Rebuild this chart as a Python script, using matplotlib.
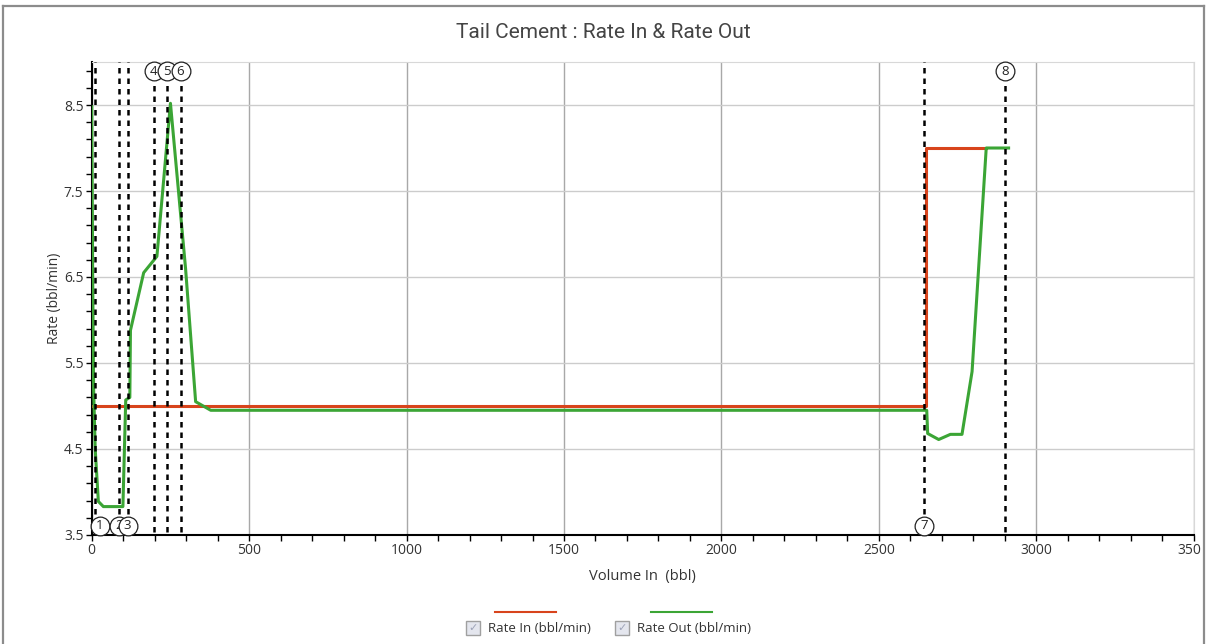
import numpy as np
import matplotlib.pyplot as plt
from matplotlib.lines import Line2D
from matplotlib.patches import Rectangle
import matplotlib.transforms as mtransforms

# data
rate_in_vol = [0, 2650, 2650, 2841]
rate_in = [5.0, 5.0, 8.0, 8.0]

rate_out_vol = [0, 3, 6, 11, 21, 37, 99, 108, 121, 123, 165, 207, 250, 298,
                330, 378, 2652, 2655, 2690, 2727, 2764, 2796, 2841, 2912]
rate_out = [8.48, 6.5, 5.2, 4.5, 3.89, 3.83, 3.83, 5.07, 5.1, 5.88, 6.55, 6.74,
            8.52, 6.6, 5.05, 4.95, 4.95, 4.68, 4.61, 4.67, 4.67, 5.40, 8.0, 8.0]

event_vol = [10, 88, 114, 197, 239, 282, 2644, 2902]
event_lbl = ['1', '2', '3', '4', '5', '6', '7', '8']
event_side = ['bottom', 'bottom', 'bottom', 'top', 'top', 'top', 'bottom', 'top']

x_ticks = [0, 500, 1000, 1500, 2000, 2500, 3000, 3500]
y_ticks = [3.5, 4.5, 5.5, 6.5, 7.5, 8.5]

red = '#d8441c'
green = '#3ba535'
font = ['Open Sans', 'DejaVu Sans']
title_font = ['Roboto', 'DejaVu Sans']

fig = plt.figure(figsize=(12.07, 6.44), dpi=100)
ax = fig.add_axes([0.076, 0.1693, 0.913, 0.7344])

ax.plot(rate_in_vol, rate_in, color=red, linewidth=2.2, zorder=3)
ax.plot(rate_out_vol, rate_out, color=green, linewidth=2.2, zorder=4)

ax.set_xlim(0, 3500)
ax.set_ylim(3.5, 9.0)

ax.set_xticks(x_ticks)
ax.set_xticklabels([str(v) for v in x_ticks], fontsize=10, family=font, color='#333333')
ax.set_xticks(np.arange(0, 3501, 100), minor=True)
ax.set_yticks(y_ticks)
ax.set_yticklabels([str(v) for v in y_ticks], fontsize=10, family=font, color='#333333')
ax.set_yticks(np.arange(3.5, 9.0, 0.2), minor=True)
ax.tick_params(which='major', length=4, width=1, direction='out', pad=2)
ax.tick_params(which='minor', length=4, width=1, direction='out')

ax.grid(axis='x', which='major', color='#a8a8a8', linewidth=1)
ax.grid(axis='y', which='major', color='#cccccc', linewidth=1)
ax.set_axisbelow(True)

ax.spines['left'].set_linewidth(1.5)
ax.spines['bottom'].set_linewidth(1.5)
ax.spines['top'].set_color('#d8d8d8')
ax.spines['right'].set_color('#d8d8d8')

ax.set_xlabel('Volume In  (bbl)', fontsize=10.5, family=font, color='#333333', labelpad=8)
ax.set_ylabel('Rate (bbl/min)', fontsize=10, family=font, color='#333333', labelpad=1)

fig.text(0.5, 0.95, 'Tail Cement : Rate In & Rate Out', ha='center', va='center',
         fontsize=15, family=title_font, color='#444444')

# event markers
trans = mtransforms.blended_transform_factory(ax.transData, ax.transAxes)
for i, (v, lbl, side) in enumerate(zip(event_vol, event_lbl, event_side)):
    if side == 'bottom':
        y0, y1, yc = 0.044, 1.0, 0.019
    else:
        y0, y1, yc = 0.006, 0.958, 0.981
    ax.plot([v, v], [y0, y1], transform=trans, color='black', linewidth=1.8,
            linestyle=(0, (2.2, 2.0)), zorder=5, clip_on=False)
    dx = 5 if i == 0 else 0
    off = mtransforms.offset_copy(trans, fig=fig, x=dx * 0.72, y=0, units='points')
    ax.plot([v], [yc], transform=off, marker='o', markersize=13.5,
            markerfacecolor='white', markeredgecolor='#222222', markeredgewidth=0.9,
            zorder=6 + i, clip_on=False)
    ax.text(v, yc, lbl, transform=off, ha='center', va='center', fontsize=9.5,
            family=font, color='#222222', zorder=6 + i, clip_on=False)

# legend below the plot
H = 644.0
W = 1207.0
for x0, x1, c in [(495, 556, red), (651, 712, green)]:
    fig.add_artist(Line2D([x0 / W, x1 / W], [1 - 612 / H, 1 - 612 / H], color=c, linewidth=1.5))
for bx, label in [(466, 'Rate In (bbl/min)'), (615, 'Rate Out (bbl/min)')]:
    fig.add_artist(Rectangle((bx / W, 1 - 635 / H), 14 / W, 14 / H, facecolor='#e4e6ee',
                             edgecolor='#a0a0a0', linewidth=1, transform=fig.transFigure))
    fig.text((bx + 7) / W, 1 - 628 / H, '\u2713', ha='center', va='center', fontsize=8,
             color='#9da3b8', family=['DejaVu Sans'])
    fig.text((bx + 22) / W, 1 - 628 / H, label, ha='left', va='center', fontsize=9.5,
             family=font, color='#333333')

# outer frame, with the chart clipped just inside it (as in the reference)
fig.add_artist(Rectangle((1201 / W, 0), 6 / W, 1, facecolor='white', edgecolor='none',
                         transform=fig.transFigure, zorder=19))
for xs, ys in [([3, 3], [6, 644]), ([3, 1204], [6, 6]), ([1204, 1204], [6, 644])]:
    fig.add_artist(Line2D([x / W for x in xs], [1 - y / H for y in ys], color='#8c8c8c',
                          linewidth=1.6, zorder=20))

fig.savefig('out.png', dpi=100)
